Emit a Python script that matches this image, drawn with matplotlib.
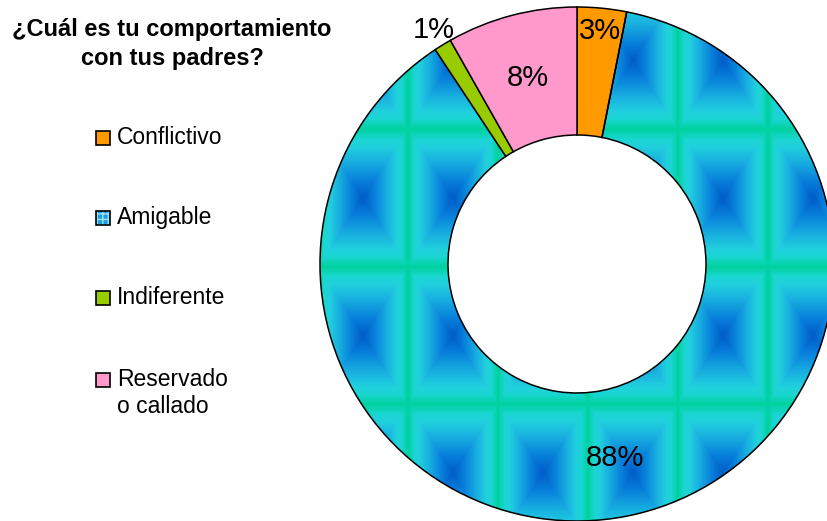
import numpy as np
import matplotlib
matplotlib.use("Agg")
import matplotlib.pyplot as plt
from matplotlib.colors import LinearSegmentedColormap
from matplotlib.patches import Rectangle

plt.rcParams["font.family"] = ["Liberation Sans", "DejaVu Sans"]

# data
categories = ["Conflictivo", "Amigable", "Indiferente", "Reservado\no callado"]
values = [3.1, 87.6, 1.1, 8.2]
pct_labels = ["3%", "88%", "1%", "8%"]
colors = ["#ff9900", "none", "#99cc00", "#ff99cc"]
label_dist = [0.91, 0.77, 1.07, 0.75]

W, H = 828, 521
cx, cy = 577, H - 264       # donut centre (pixels, y up)
R, ring = 257, 128

fig = plt.figure(figsize=(W / 100, H / 100), dpi=100)
ax = fig.add_axes([0, 0, 1, 1])

wedges, _ = ax.pie(values, colors=colors, startangle=90, counterclock=False,
                   center=(cx, cy), radius=R,
                   wedgeprops=dict(width=ring, edgecolor="black", linewidth=1.1))

# tiled gradient texture for "Amigable"
px, py = np.meshgrid(np.arange(W) + 0.5, np.arange(H) + 0.5)
fx = ((px - 453) / 90.0 + 0.5) % 1 - 0.5
fy = ((py - 48) / 137.5 + 0.5) % 1 - 0.5
d = 2 * np.maximum(np.abs(fx), np.abs(fy))
tile_cmap = LinearSegmentedColormap.from_list("tile", [
    (0.0, (0.00, 0.36, 0.78)),
    (0.25, (0.03, 0.50, 0.86)),
    (0.55, (0.10, 0.70, 0.88)),
    (0.75, (0.13, 0.82, 0.87)),
    (0.86, (0.10, 0.84, 0.82)),
    (1.0, (0.00, 0.82, 0.62)),
])
img = ax.imshow(d, cmap=tile_cmap, vmin=0, vmax=1, extent=(0, W, H, 0),
                origin="upper", interpolation="bilinear", zorder=0.5)
img.set_clip_path(wedges[1])
ax.set_xlim(0, W)
ax.set_ylim(0, H)
ax.set_aspect("auto")
ax.axis("off")
wedges[1].set_zorder(1)

# percentage labels
for w, lab, dist in zip(wedges, pct_labels, label_dist):
    ang = np.deg2rad((w.theta1 + w.theta2) / 2)
    x = cx + dist * R * np.cos(ang)
    y = cy + dist * R * np.sin(ang)
    ax.text(x, y, lab, ha="center", va="center", fontsize=21, color="black", zorder=5)

# title
fig.text(172 / W, 1 - 44 / H, "¿Cuál es tu comportamiento\ncon tus padres?",
         ha="center", va="center", fontsize=17, fontweight="bold", linespacing=1.35)

# legend
leg_y = [138, 218, 298, 380]
for lab, col, yy in zip(categories, colors, leg_y):
    if col == "none":
        # light grid inside a blue swatch
        ax.add_patch(Rectangle((96, H - yy - 7), 14, 14, facecolor="#1a9fe0",
                               edgecolor="#9fe0f5", linewidth=0, hatch="+++", zorder=5))
        ax.add_patch(Rectangle((96, H - yy - 7), 14, 14, facecolor="none",
                               edgecolor="black", linewidth=1.2, zorder=6))
    else:
        ax.add_patch(Rectangle((96, H - yy - 7), 14, 14, facecolor=col,
                               edgecolor="black", linewidth=1.2, zorder=5))
    ax.text(117, H - yy + 12, lab, ha="left", va="top", fontsize=16.5,
            linespacing=1.2, zorder=5)

fig.savefig("out.png", dpi=100)
